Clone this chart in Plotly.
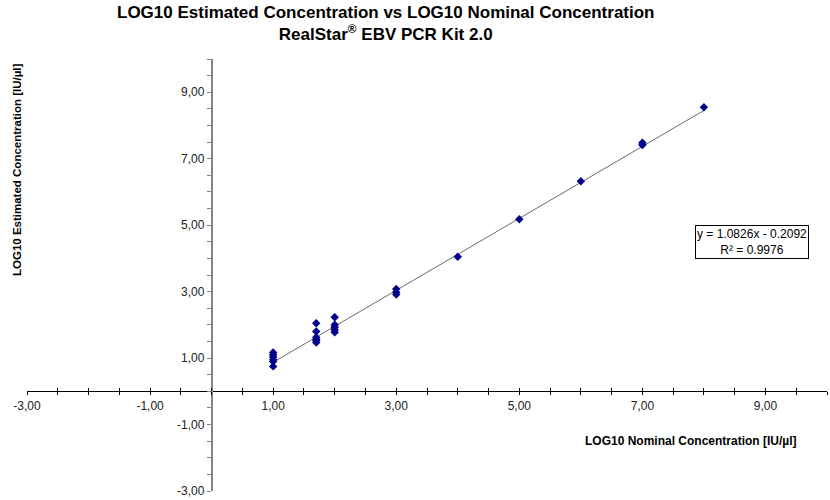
import plotly.graph_objects as go

# ---- data ----
nominal = [1, 1, 1, 1, 1, 1,
           1.7, 1.7, 1.7, 1.7, 1.7, 1.7,
           2, 2, 2, 2, 2,
           3, 3, 3,
           4, 5, 6, 7, 7, 8]
estimated = [1.17, 1.10, 1.03, 0.95, 0.90, 0.75,
             2.05, 1.80, 1.63, 1.57, 1.53, 1.47,
             2.23, 2.00, 1.93, 1.85, 1.78,
             3.08, 2.98, 2.91,
             4.05, 5.18, 6.32, 7.48, 7.41, 8.55]
slope = 1.0826
intercept = -0.2092
r_squared = 0.9976

x_range = [-3, 10]
y_range = [-3, 10]
x_tick_vals = [-3, -1, 1, 3, 5, 7, 9]
y_tick_vals = [-3, -1, 1, 3, 5, 7, 9]


def fmt(v):
    return f"{v:.2f}".replace(".", ",")


x_tick_text = [fmt(v) for v in x_tick_vals]
y_tick_text = [fmt(v) for v in y_tick_vals]

# trendline endpoints from fitted coefficients
trend_x = [min(nominal), max(nominal)]
trend_y = [slope * v + intercept for v in trend_x]

FONT = "Liberation Sans, Arial, sans-serif"

fig = go.Figure()
fig.add_trace(go.Scatter(x=trend_x, y=trend_y, mode="lines",
                         line=dict(color="#6a6a6a", width=1),
                         showlegend=False, hoverinfo="skip"))
fig.add_trace(go.Scatter(x=nominal, y=estimated, mode="markers",
                         marker=dict(symbol="diamond", size=6.5, color="#00008B"),
                         showlegend=False))
# invisible helper trace to activate the overlay axis (crossing ticks)
fig.add_trace(go.Scatter(x=nominal[:1], y=estimated[:1], mode="markers",
                         marker=dict(opacity=0), xaxis="x2",
                         showlegend=False, hoverinfo="skip"))

x_axis_pos = (0 - y_range[0]) / (y_range[1] - y_range[0])
y_axis_pos = (0 - x_range[0]) / (x_range[1] - x_range[0])

common_x = dict(range=x_range, showgrid=False, zeroline=False,
                domain=[0, 1], anchor="free", position=x_axis_pos)

# plot area in pixels: left 27, top 59, width 800, height 432
PL, PT, PW, PH = 27, 59, 800, 432


def px(xp):
    return (xp - PL) / PW


def py(yp):
    return (PT + PH - yp) / PH


fig.update_layout(
    width=830, height=500,
    margin=dict(l=PL, r=830 - PL - PW, t=PT, b=500 - PT - PH, autoexpand=False),
    paper_bgcolor="white", plot_bgcolor="white",
    font=dict(family=FONT, size=12, color="#222222"),
    xaxis=dict(**common_x, showline=True, linecolor="black", linewidth=1,
               tickmode="array", tickvals=x_tick_vals, ticktext=x_tick_text,
               ticks="outside", ticklen=3, tickcolor="black",
               minor=dict(tickmode="linear", tick0=-3, dtick=0.5,
                          ticks="outside", ticklen=3, tickcolor="black"),
               tickfont=dict(size=12, color="#222222")),
    xaxis2=dict(**common_x, overlaying="x", side="bottom", showline=False,
                showticklabels=False,
                tickmode="linear", tick0=-3, dtick=0.5,
                ticks="inside", ticklen=3, tickcolor="black"),
    yaxis=dict(range=y_range, showgrid=False, zeroline=False,
               domain=[0, 1], anchor="free", position=y_axis_pos,
               showline=True, linecolor="#858585", linewidth=1.5,
               tickmode="array", tickvals=y_tick_vals, ticktext=y_tick_text,
               ticks="outside", ticklen=4, tickcolor="#858585",
               minor=dict(tickmode="linear", tick0=-3, dtick=0.5,
                          ticks="outside", ticklen=4, tickcolor="#858585"),
               tickfont=dict(size=12, color="#222222")),
    annotations=[
        dict(text="<b>LOG10 Estimated Concentration vs LOG10 Nominal Concentration"
                  "<br>RealStar<sup>®</sup> EBV PCR Kit 2.0</b>",
             xref="paper", yref="paper", x=px(385), y=py(24),
             xanchor="center", yanchor="middle", showarrow=False,
             font=dict(family=FONT, size=17, color="black")),
        dict(text="<b>LOG10 Estimated Concentration [IU/µl]</b>",
             xref="paper", yref="paper", x=px(17), y=py(170),
             xanchor="center", yanchor="middle",
             textangle=-90, showarrow=False,
             font=dict(family=FONT, size=11.5, color="black")),
        dict(text="<b>LOG10 Nominal Concentration [IU/µl]</b>",
             xref="paper", yref="paper", x=px(691), y=py(441),
             xanchor="center", yanchor="middle", showarrow=False,
             font=dict(family=FONT, size=12, color="black")),
        dict(text=f"y = {slope}x - {abs(intercept)}<br>R² = {r_squared}",
             xref="paper", yref="paper", x=px(752), y=py(242),
             xanchor="center", yanchor="middle",
             showarrow=False, align="center",
             bordercolor="black", borderwidth=1, borderpad=1,
             bgcolor="white",
             font=dict(family=FONT, size=12, color="black")),
    ],
)

fig.write_html("out.html", config={"displayModeBar": False},
               post_script="document.body.style.margin='0';")
